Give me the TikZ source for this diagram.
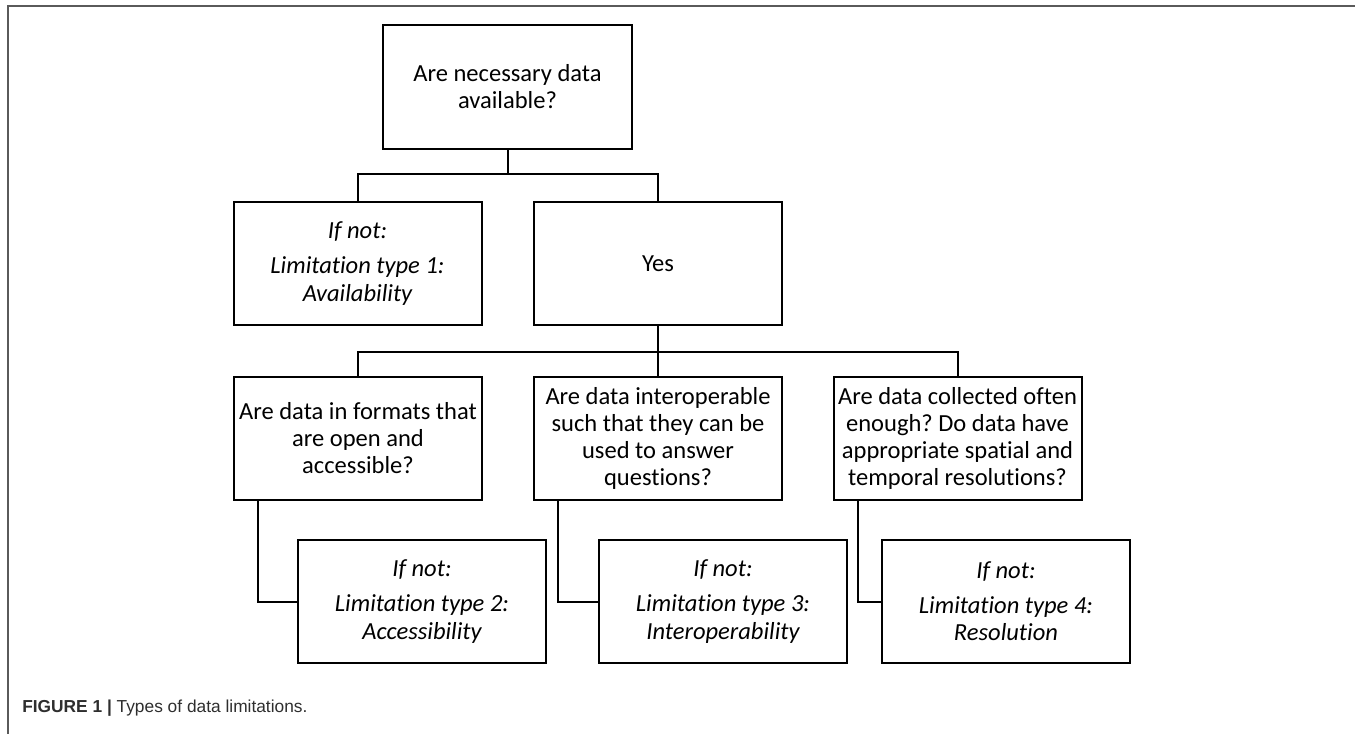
\documentclass[tikz,border=0pt]{standalone}
\usepackage{fontspec}
\setmainfont{Carlito}[Ligatures=NoCommon]
\newfontfamily\capfont{Liberation Sans}
\frenchspacing
\definecolor{framegray}{HTML}{5A5A5A}
\definecolor{capgray}{HTML}{2E2E2E}
\tikzset{
  box/.style={draw, line width=1.5pt, inner sep=0pt, align=center,
    minimum width=186pt, minimum height=92.25pt,
    font=\fontsize{18.4}{20.3}\selectfont},
  ibox/.style={box, font=\fontsize{18.4}{20.3}\selectfont\itshape},
  conn/.style={line width=1.5pt},
  framel/.style={line width=1.5pt, draw=framegray}
}
\begin{document}
\begin{tikzpicture}[x=0.75pt, y=-0.75pt]
\useasboundingbox (0,0) rectangle (1355,734);
% frame
\draw[framel] (7,6) -- (1355,6);
\draw[framel] (8,6) -- (8,734);
% boxes
\node[box, minimum width=186.75pt, minimum height=93pt] (top) at (507.5,87) {Are necessary data\\available?};
\node[ibox] (l1) at (357.5,263.5) {If not:\\[6pt]Limitation type 1:\\Availability};
\node[box] (yes) at (658,263.5) {Yes};
\node[box] (a) at (358,438.5) {Are data in formats that\\are open and\\accessible?};
\node[box] (b) at (658,438.5) {Are data interoperable\\such that they can be\\used to answer\\questions?};
\node[box] (c) at (957.5,438.5) {Are data collected often\\enough? Do data have\\appropriate spatial and\\temporal resolutions?};
\node[ibox] (a2) at (422,601.5) {If not:\\[6pt]Limitation type 2:\\Accessibility};
\node[ibox] (b2) at (723,601.5) {If not:\\[6pt]Limitation type 3:\\Interoperability};
\node[ibox] (c2) at (1006,601.5) {If not:\\[6pt]Limitation type 4:\\Resolution};
% connectors
\coordinate (j1) at (507.5,174);
\coordinate (j2) at (658,352);
\draw[conn] (top.south) -- (j1);
\draw[conn] (l1.north) |- (j1) -| (yes.north);
\draw[conn] (yes.south) -- (j2);
\draw[conn] (a.north) |- (j2) -| (c.north);
\draw[conn] (b.north) -- (b.north |- j2);
\draw[conn] ([xshift=18.75pt]a.south west) |- (a2.west);
\draw[conn] ([xshift=18.75pt]b.south west) |- (b2.west);
\draw[conn] ([xshift=18.75pt]c.south west) |- (c2.west);
% caption
\node[anchor=base west, inner sep=0pt, text=capgray, font=\capfont\fontsize{13}{15}\selectfont] (cap) at (22,712) {\textbf{FIGURE 1 |} Types of data limitations.};
\end{tikzpicture}
\end{document}
